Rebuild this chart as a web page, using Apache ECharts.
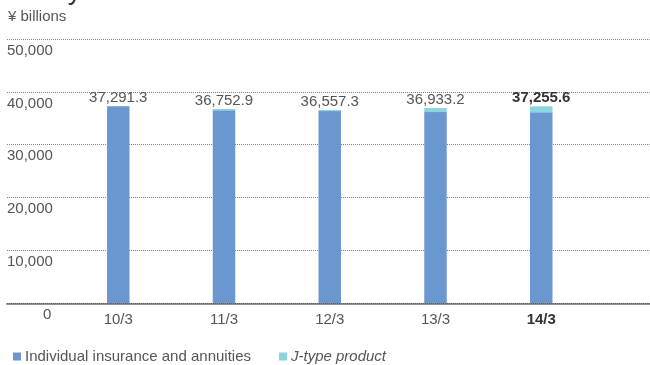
<!DOCTYPE html>
<html>
<head>
<meta charset="utf-8">
<script src="https://cdn.jsdelivr.net/npm/echarts@6/dist/echarts.min.js"></script>
<style>
  html, body { margin: 0; padding: 0; background: #fff; }
  #chart { width: 650px; height: 365px; }
</style>
</head>
<body>
<div id="chart"></div>
<script>
// Fiscal year-ends (March)
const categories = ['10/3', '11/3', '12/3', '13/3', '14/3'];
// Stated totals shown above each column (¥ billions)
const totals = [37291.3, 36752.9, 36557.3, 36933.2, 37255.6];
// Individual insurance and annuities (¥ billions)
const individual = [37291.3, 36502.9, 36357.3, 36173.2, 36125.6];
// J-type product (¥ billions)
const jType = [0, 250.0, 200.0, 760.0, 1130.0];
// Value axis ticks
const yTicks = [0, 10000, 20000, 30000, 40000, 50000];

const FONT = '"Liberation Sans", Arial, Helvetica, sans-serif';
const BLUE = '#6a97d0';
const CYAN = '#8cd4e0';
const GREY = '#555';

// Padded category list so that columns sit on evenly spaced points
const xData = [''].concat(categories, ['']);
const pad = arr => [null].concat(arr, [null]);

const fmt = v => v.toLocaleString('en-US', { minimumFractionDigits: 1, maximumFractionDigits: 1 });

const chart = echarts.init(document.getElementById('chart'), null, { renderer: 'canvas' });

const option = {
  animation: false,
  backgroundColor: '#fff',
  textStyle: { fontFamily: FONT },
  title: [
    {
      text: 'Policy Amount in Force',
      left: 2, top: -28,
      textStyle: { fontFamily: FONT, fontSize: 28, fontWeight: 'normal', color: '#333' }
    },
    {
      text: '¥ billions',
      left: 8, top: 9, padding: 0,
      textStyle: { fontFamily: FONT, fontSize: 15, fontWeight: 'normal', color: GREY }
    }
  ],
  legend: {
    left: 8, top: 344,
    itemWidth: 8, itemHeight: 8, itemGap: 28,
    icon: 'rect',
    textStyle: { fontFamily: FONT, fontSize: 15, color: GREY, padding: [0, 0, 0, -1] },
    data: [
      { name: 'Individual insurance and annuities' },
      { name: 'J-type product', textStyle: { fontStyle: 'italic' } }
    ]
  },
  grid: [
    // columns
    { left: 12.5, right: 1.8, top: 39, bottom: 61.7 },
    // gridlines, value labels and baseline
    { left: 7, right: 0, top: 39, bottom: 61.7 }
  ],
  xAxis: [
    {
      gridIndex: 0,
      type: 'category',
      data: xData,
      boundaryGap: false,
      axisLine: { show: false },
      axisTick: { show: false },
      splitLine: { show: false },
      axisLabel: {
        margin: 9,
        fontFamily: FONT,
        fontSize: 15,
        color: GREY,
        interval: 0,
        formatter: v => v === categories[categories.length - 1] ? '{b|' + v + '}' : v,
        rich: { b: { fontFamily: FONT, fontSize: 15, fontWeight: 'bold', color: '#333' } }
      }
    },
    {
      gridIndex: 1,
      type: 'value',
      min: 0, max: 1,
      axisLine: { show: true, onZero: true, lineStyle: { color: 'rgba(70,70,70,0.6)', width: 2 } },
      axisTick: { show: false },
      axisLabel: { show: false },
      splitLine: { show: false },
      z: 10
    }
  ],
  yAxis: [
    {
      gridIndex: 0,
      type: 'value',
      min: yTicks[0], max: yTicks[yTicks.length - 1], interval: 10000,
      show: false
    },
    {
      gridIndex: 1,
      type: 'value',
      min: yTicks[0], max: yTicks[yTicks.length - 1], interval: 10000,
      axisLine: { show: false },
      axisTick: { show: false },
      splitLine: {
        show: true,
        lineStyle: { color: '#808080', width: 1, type: [1, 1] }
      },
      axisLabel: {
        inside: true,
        margin: 0,
        align: 'left',
        verticalAlign: 'top',
        padding: [4, 0, 0, 0],
        fontFamily: FONT,
        fontSize: 15,
        color: GREY,
        formatter: v => v === 0 ? '{z|0}' : v.toLocaleString('en-US'),
        rich: { z: { fontFamily: FONT, fontSize: 15, color: GREY, padding: [0, 0, 0, 36] } }
      }
    }
  ],
  series: [
    {
      name: 'Individual insurance and annuities',
      type: 'bar',
      stack: 'total',
      xAxisIndex: 0, yAxisIndex: 0,
      barWidth: 22.5,
      itemStyle: { color: BLUE },
      data: pad(individual)
    },
    {
      name: 'J-type product',
      type: 'bar',
      stack: 'total',
      xAxisIndex: 0, yAxisIndex: 0,
      barWidth: 22.5,
      itemStyle: { color: CYAN },
      data: pad(jType),
      label: {
        show: true,
        position: 'top',
        distance: 1,
        fontFamily: FONT,
        fontSize: 15,
        color: GREY,
        formatter: p => {
          const i = p.dataIndex - 1;
          const t = fmt(totals[i]);
          return i === categories.length - 1 ? '{b|' + t + '}' : t;
        },
        rich: { b: { fontFamily: FONT, fontSize: 15, fontWeight: 'bold', color: '#333' } }
      }
    }
  ]
};

chart.setOption(option);
</script>
</body>
</html>
